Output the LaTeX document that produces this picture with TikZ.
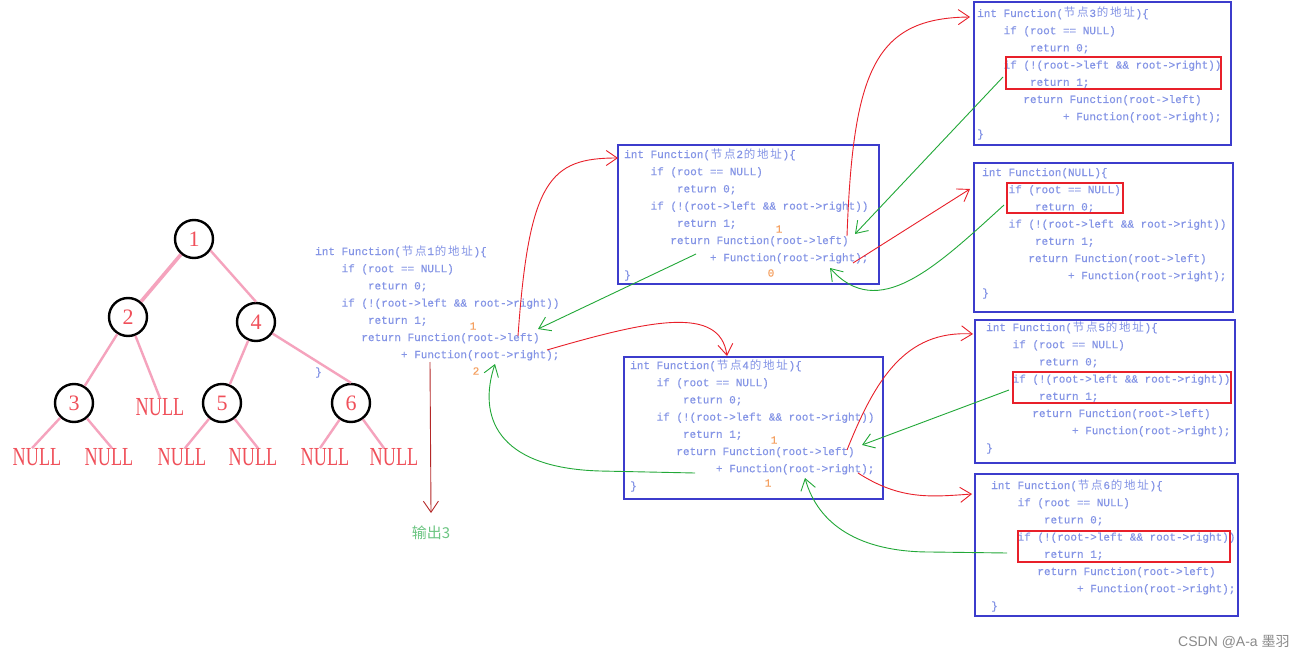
\documentclass[tikz,border=0pt]{standalone}
\usepackage{fontspec}
\usepackage{graphicx}
\setmainfont{Liberation Serif}
\newfontfamily\codefont[FakeBold=0.4]{Liberation Mono}
\newfontfamily\cjkfont{Noto Sans CJK SC}
\newfontfamily\wmfont{Liberation Sans}
\usetikzlibrary{arrows.meta}
\definecolor{codeblue}{HTML}{8494E6}
\definecolor{boxblue}{HTML}{3C3CCC}
\definecolor{arrred}{HTML}{E8202A}
\definecolor{arrgreen}{HTML}{22A838}
\definecolor{darkred}{HTML}{B42828}
\definecolor{treepink}{HTML}{F5A3BD}
\definecolor{treered}{HTML}{F0505A}
\definecolor{numorange}{HTML}{F5A060}
\definecolor{outgreen}{HTML}{6CC582}
\definecolor{wmgrey}{HTML}{8A8A8A}
\newcommand\cj[1]{\makebox[13.2pt]{\cjkfont\fontsize{11.5}{12}\selectfont #1}}
\newcommand\codeblk[4]{%
  \node[code] (#1h) at (#2,{#3+4}) {#4};
  \node[code] (#1a) at ({#2+26.4},{#3+21.2}) {if (root == NULL)};
  \node[code] (#1b) at ({#2+52.8},{#3+38.4}) {return 0;};
  \node[code] (#1c) at ({#2+26.4},{#3+55.6}) {if (!(root->left \&\& root->right))};
  \node[code] (#1d) at ({#2+52.8},{#3+72.8}) {return 1;};
  \node[code] (#1e) at ({#2+46.2},{#3+90}) {return Function(root->left)};
  \node[code] (#1f) at ({#2+85.8},{#3+107.2}) {+ Function(root->right);};
  \node[code] (#1g) at (#2,{#3+124.4}) {\}};
}
\tikzset{
  code/.style={anchor=base west, inner sep=0pt, text=codeblue, font=\codefont\fontsize{11}{13}\selectfont},
  codebox/.style={draw=boxblue, line width=1.2pt},
  hilite/.style={draw=arrred, line width=1.1pt},
  tnode/.style={circle, draw=black, line width=2.4pt, minimum size=38pt, inner sep=0pt, text=treered, font=\fontsize{22}{24}\selectfont},
  nul/.style={inner sep=0pt, text=treered, font=\fontsize{26}{28}\selectfont},
  pe/.style={draw=treepink, line width=2.4pt},
  barb/.style={-{Straight Barb[length=11pt,width=15pt]}, line width=0.9pt},
  redarr/.style={barb, draw=arrred},
  greenarr/.style={barb, draw=arrgreen},
  num/.style={inner sep=0pt, text=numorange, font=\codefont\fontsize{11}{13}\selectfont},
}
\begin{document}
\begin{tikzpicture}[x=1pt,y=-1pt]
\fill[white] (0,0) rectangle (1312,658);
\useasboundingbox (0,0) rectangle (1312,658);

% ---------- tree ----------
\node[tnode] (t1) at (194,239) {1};
\node[tnode] (t2) at (128,317) {2};
\node[tnode] (t4) at (256,322) {4};
\node[tnode] (t3) at (74,403) {3};
\node[nul]   (n2) at (160,407) {\scalebox{0.7}[1]{NULL}};
\node[tnode] (t5) at (222,403) {5};
\node[tnode] (t6) at (351,403) {6};
\node[nul] (na) at (37,457)  {\scalebox{0.7}[1]{NULL}};
\node[nul] (nb) at (109,457) {\scalebox{0.7}[1]{NULL}};
\node[nul] (nc) at (182,457) {\scalebox{0.7}[1]{NULL}};
\node[nul] (nd) at (253,457) {\scalebox{0.7}[1]{NULL}};
\node[nul] (ne) at (325,457) {\scalebox{0.7}[1]{NULL}};
\node[nul] (nf) at (394,457) {\scalebox{0.7}[1]{NULL}};

\draw[pe, line width=3.6pt] (t1) -- (t2);
\draw[pe] (t1.-35) -- (t4.north);
\draw[pe] (t2) -- (t3);
\draw[pe] (t2) -- (n2.north);
\draw[pe] (t4) -- (t5);
\draw[pe] (t4.-35) -- (t6.north);
\draw[pe] (t3) -- ([xshift=-5pt]na.north);
\draw[pe] (t3) -- ([xshift=3pt]nb.north);
\draw[pe] (t5) -- ([xshift=3pt]nc.north);
\draw[pe] (t5) -- ([xshift=5pt]nd.north);
\draw[pe] (t6) -- ([xshift=-5pt]ne.north);
\draw[pe] (t6) -- ([xshift=-10pt]nf.north);

% ---------- code blocks ----------
\codeblk{p1}{315}{251}{int Function(\cj{节}\cj{点}1\cj{的}\cj{地}\cj{址})\{}

\draw[codebox] (618,145) rectangle (879,284);
\codeblk{p2}{624}{154}{int Function(\cj{节}\cj{点}2\cj{的}\cj{地}\cj{址})\{}

\draw[codebox] (974,2) rectangle (1231,145);
\codeblk{p3}{977}{13}{int Function(\cj{节}\cj{点}3\cj{的}\cj{地}\cj{址})\{}
\draw[hilite] (1006,57) rectangle (1221,89);

\draw[codebox] (974,163) rectangle (1233,312);
\codeblk{pn}{982}{172}{int Function(NULL)\{}
\draw[hilite] (1007,183) rectangle (1123,213);

\draw[codebox] (975,320) rectangle (1235,463);
\codeblk{p5}{986}{327}{int Function(\cj{节}\cj{点}5\cj{的}\cj{地}\cj{址})\{}
\draw[hilite] (1013,372) rectangle (1231,403);

\draw[codebox] (624,357) rectangle (883,499);
\codeblk{p4}{630}{365}{int Function(\cj{节}\cj{点}4\cj{的}\cj{地}\cj{址})\{}

\draw[codebox] (975,474) rectangle (1238,616);
\codeblk{p6}{991}{485}{int Function(\cj{节}\cj{点}6\cj{的}\cj{地}\cj{址})\{}
\draw[hilite] (1018,531) rectangle (1230,562);

% ---------- orange return values ----------
\node[num] (v1l) at (473,326) {1};
\node[num] (v1r) at (476,371) {2};
\node[num] (v2l) at (779,229) {1};
\node[num] (v2r) at (771,273) {0};
\node[num] (v4l) at (774,440) {1};
\node[num] (v4r) at (768,483) {1};

% ---------- output ----------
\node[inner sep=0pt, text=outgreen, font=\cjkfont\fontsize{15}{17}\selectfont] (out) at (431,533) {输出3};

% ---------- arrow end points ----------
\coordinate (a1s) at (518,336);  \coordinate (a1e) at (618,158);
\coordinate (a2s) at (696,254);  \coordinate (a2e) at (538,329);
\coordinate (a3s) at (547,350);  \coordinate (a3e) at (727,356);
\coordinate (a4s) at (695,473);  \coordinate (a4m) at (600,471);  \coordinate (a4e) at (495,364);
\coordinate (a5s) at (847,236);  \coordinate (a5e) at (970,17);
\coordinate (a6s) at (1003,77);  \coordinate (a6e) at (855,234);
\coordinate (a7s) at (853,263);  \coordinate (a7e) at (970,189);
\coordinate (a8s) at (1004,205); \coordinate (a8e) at (830,268);
\coordinate (a9s) at (847,450);  \coordinate (a9e) at (973,334);
\coordinate (a10s) at (1009,390); \coordinate (a10e) at (862,445);
\coordinate (a11s) at (858,473); \coordinate (a11e) at (972,494);
\coordinate (a12s) at (1007,553); \coordinate (a12m) at (930,552); \coordinate (a12e) at (805,478);
\coordinate (a13s) at (430,362);

% ---------- arrows ----------
\draw[redarr] (a1s) .. controls (529,180) and (550,158) .. (a1e);
\draw[greenarr] (a2s) -- (a2e);
\draw[redarr] (a3s) .. controls (650,320) and (720,305) .. (a3e);
\draw[greenarr] (a4s) -- (a4m) .. controls (495,468) and (478,415) .. (a4e);
\draw[redarr] (a5s) .. controls (853,70) and (875,18) .. (a5e);
\draw[greenarr] (a6s) -- (a6e);
\draw[redarr] (a7s) -- (a7e);
\draw[greenarr] (a8s) .. controls (935,268) and (878,322) .. (a8e);
\draw[redarr] (a9s) .. controls (875,380) and (905,330) .. (a9e);
\draw[greenarr] (a10s) -- (a10e);
\draw[redarr] (a11s) .. controls (900,500) and (930,497) .. (a11e);
\draw[greenarr] (a12s) -- (a12m) .. controls (860,552) and (818,525) .. (a12e);
\draw[barb, draw=darkred] (a13s) -- (out.north |- 0,513);

% ---------- watermark ----------
\node[anchor=west, inner sep=0pt, text=wmgrey, font=\wmfont\fontsize{14}{16}\selectfont] (wm) at (1178,642) {CSDN @A-a {\cjkfont 墨羽}};
\end{tikzpicture}
\end{document}
